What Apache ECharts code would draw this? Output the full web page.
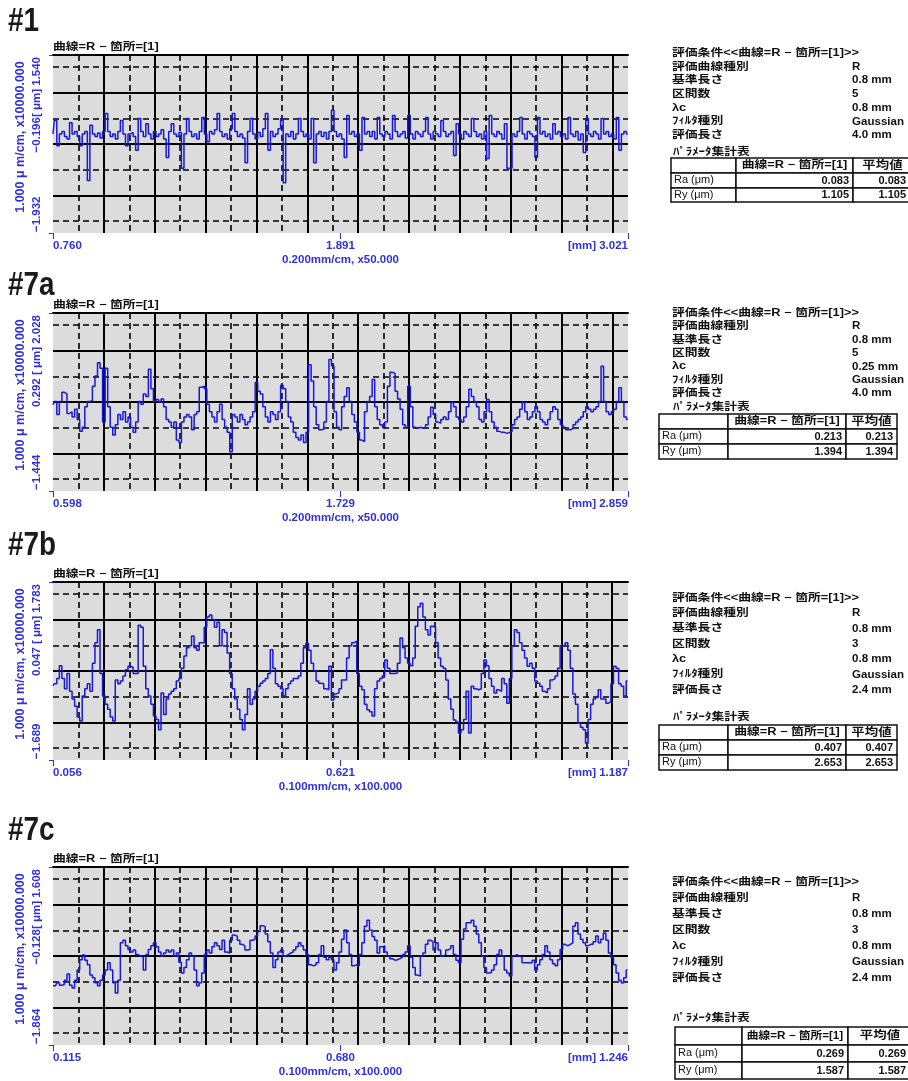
<!DOCTYPE html>
<html>
<head>
<meta charset="utf-8">
<script src="https://cdn.jsdelivr.net/npm/echarts@6/dist/echarts.min.js"></script>
<style>
  html, body { margin: 0; padding: 0; background: #fff; }
  #chart { width: 908px; height: 1081px; }
</style>
</head>
<body>
<div id="chart"></div>
<script>
// ---- data ----
const panelTags = ['#1', '#7a', '#7b', '#7c'];
const xRanges = [[0.760, 3.021], [0.598, 2.859], [0.056, 1.187], [0.115, 1.246]]; // mm
const xMidLabels = ['1.891', '1.729', '0.621', '0.680'];
const xScaleTexts = ['0.200mm/cm, x50.000', '0.200mm/cm, x50.000', '0.100mm/cm, x100.000', '0.100mm/cm, x100.000'];
const xPitch = [0.01, 0.01, 0.005, 0.005];     // sampling pitch of the profile arrays (mm)
const xGridSteps = [0.1, 0.1, 0.05, 0.05];     // dashed grid step, solid = 2x
const yRanges = [[-1.932, 1.540], [-1.444, 2.028], [-1.689, 1.783], [-1.864, 1.608]]; // um
const yMidLabels = ['\u22120.196', '0.292 ', '0.047 ', '\u22120.128'];
const yGridStep = 0.5;
const yScaleText = '1.000 \u03bc m/cm, x10000.000';

// roughness profiles (um)
const profile1 = [
  0.0, 0.26, -0.23, 0.0, 0.05, -0.05, -0.1, 0.22, 0.0, 0.05,
  -0.05, -0.23, 0.0, 0.05, -0.91, 0.17, 0.0, -0.05, 0.02, -0.08,
  0.05, 0.40, 0.05, -0.05, 0.0, -0.1, 0.05, 0.26, 0.0, -0.23,
  0.0, 0.03, -0.05, -0.32, 0.30, 0.05, -0.05, 0.2, 0.0, -0.1,
  0.05, -0.05, 0.0, 0.08, -0.1, -0.46, 0.05, 0.2, 0.0, -0.05,
  0.03, -0.67, 0.0, 0.30, 0.05, -0.05, 0.0, -0.1, 0.05, 0.32,
  0.0, -0.15, 0.05, 0.0, 0.08, 0.40, 0.05, -0.05, 0.0, -0.1,
  0.1, 0.40, 0.05, -0.05, 0.0, -0.08, -0.56, 0.05, 0.30, 0.0,
  -0.1, 0.03, -0.05, 0.1, 0.40, -0.32, 0.05, -0.05, 0.0, 0.1,
  0.30, -0.95, 0.0, -0.05, 0.05, -0.1, 0.0, 0.30, 0.05, -0.05,
  0.0, -0.1, 0.30, -0.56, 0.0, 0.05, -0.05, 0.03, -0.1, 0.05,
  0.46, 0.05, -0.05, 0.0, -0.1, -0.46, 0.36, 0.0, 0.05, -0.05,
  0.0, -0.32, 0.32, 0.0, 0.05, -0.05, 0.05, -0.1, 0.32, 0.0,
  -0.05, 0.05, 0.0, -0.1, 0.36, 0.05, -0.05, 0.0, 0.05, -0.08,
  0.36, 0.0, -0.1, 0.05, 0.0, -0.05, 0.05, 0.32, 0.0, -0.1,
  0.05, 0.0, -0.05, 0.26, 0.05, -0.05, 0.0, 0.05, -0.42, 0.2,
  0.0, -0.1, 0.05, 0.0, -0.05, 0.30, 0.05, -0.05, 0.0, -0.1,
  0.05, -0.48, 0.36, 0.0, -0.05, 0.05, 0.0, -0.1, 0.2, -0.67,
  -0.67, 0.0, -0.05, 0.05, 0.32, 0.0, -0.1, 0.05, 0.0, -0.05,
  -0.46, 0.32, 0.0, 0.05, -0.05, 0.0, -0.1, 0.2, 0.0, 0.05,
  -0.05, 0.0, -0.1, 0.32, 0.0, -0.05, 0.05, -0.12, 0.0, -0.36,
  0.30, 0.0, -0.05, 0.05, 0.0, -0.1, 0.30, 0.0, 0.05, -0.05,
  0.0, -0.1, 0.32, -0.32, 0.0, 0.05, 0.0
];
const profile7a = [
  0.24, 0.3, 0.05, 0.3, 0.48, 0.45, 0.07, 0.1, 0.0, 0.15,
  -0.05, -0.28, -0.2, 0.2, 0.3, 0.32, 0.6, 0.8, 1.06, 0.95,
  -0.1, 0.95, 0.2, -0.2, -0.35, -0.15, 0.05, -0.05, 0.1, -0.1,
  0.0, -0.2, -0.3, -0.1, 0.3, 0.25, 0.45, 0.4, 0.93, 0.55,
  0.3, 0.34, 0.3, 0.35, 0.2, -0.05, -0.1, -0.2, -0.1, -0.45,
  -0.5, -0.1, 0.0, 0.05, 0.0, -0.25, 0.05, 0.1, 0.58, 0.6,
  0.55, 0.25, 0.1, 0.0, -0.1, 0.1, 0.25, -0.05, -0.2, -0.3,
  -0.68, 0.05, 0.0, -0.1, 0.05, -0.05, -0.15, -0.1, 0.0, 0.1,
  0.67, 0.5, 0.45, 0.2, 0.0, -0.1, 0.1, 0.05, -0.05, 0.1,
  0.62, 0.55, 0.3, 0.0, -0.1, -0.3, -0.4, -0.45, -0.35, -0.5,
  -0.3, 1.02, 0.7, 0.2, -0.15, -0.25, -0.24, -0.1, 0.3, 1.12,
  1.0, 0.1, -0.2, -0.25, 0.2, 0.4, 0.57, 0.3, 0.05, -0.1,
  -0.3, -0.45, -0.48, 0.1, 0.3, 0.4, 0.73, 0.2, -0.05, -0.15,
  -0.2, -0.1, 0.6, 0.87, 0.85, 0.5, 0.35, 0.15, -0.15, -0.2,
  0.6, 0.2, -0.2, -0.22, -0.2, -0.22, -0.2, -0.15, 0.0, 0.19,
  0.05, -0.1, -0.12, -0.05, 0.0, -0.05, 0.1, 0.28, 0.2, 0.0,
  -0.05, -0.1, 0.0, 0.2, 0.54, 0.4, 0.3, 0.2, -0.05, -0.1,
  0.1, 0.34, 0.1, -0.1, -0.2, -0.28, -0.3, -0.3, -0.32, -0.3,
  -0.28, -0.15, -0.05, 0.0, 0.15, 0.28, 0.1, -0.05, 0.0, 0.1,
  0.2, 0.1, -0.05, -0.1, -0.15, -0.05, 0.1, 0.2, 0.15, -0.05,
  -0.15, -0.2, -0.25, -0.25, -0.22, -0.15, -0.1, -0.05, 0.0, 0.1,
  0.2, 0.15, 0.1, 0.15, 0.2, 0.3, 0.99, 0.3, 0.1, 0.05,
  0.1, 0.15, 0.3, 0.57, 0.3, 0.0, -0.05
];
const profile7b = [
  -0.24, -0.2, -0.1, 0.15, -0.1, -0.3, 0.0, -0.35, -0.5, -0.64,
  -0.85, -0.93, -0.44, -0.3, -0.2, -0.35, 0.2, 0.6, 0.85, 0.0,
  -0.44, -0.6, -0.7, -0.85, -0.93, -0.13, -0.2, -0.15, -0.05, 0.07,
  0.14, 0.12, 0.0, 0.0, 0.94, 0.9, 0.14, -0.3, -0.44, -0.6,
  -0.83, -0.9, -1.1, -0.38, -0.8, -0.5, -0.4, -0.35, -0.3, -0.15,
  -0.1, 0.1, 0.34, 0.5, 0.54, 0.73, 0.5, 0.45, 0.6, 0.6,
  0.9, 1.1, 1.14, 1.05, 0.9, 1.0, 0.54, 0.85, 0.8, 0.4,
  0.0, -0.3, -0.5, -0.7, -0.9, -1.1, -0.8, -0.3, -0.6, -0.5,
  -0.35, -0.25, -0.19, -0.15, -0.1, 0.0, 0.46, 0.1, -0.2, -0.25,
  -0.3, -0.44, -0.3, -0.2, -0.15, -0.1, -0.1, -0.05, 0.2, 0.5,
  0.59, 0.45, 0.2, 0.05, -0.15, -0.19, -0.2, -0.3, -0.32, 0.14,
  -0.52, -0.4, -0.38, -0.3, -0.13, -0.13, 0.3, 0.54, 0.6, 0.63,
  0.0, -0.25, -0.32, -0.6, -0.71, -0.75, -0.83, -0.3, -0.15, -0.1,
  -0.05, 0.26, 0.1, 0.0, 0.0, 0.01, 0.2, 0.69, 0.5, 0.3,
  0.2, 0.15, 0.3, 0.92, 1.3, 1.37, 1.1, 0.85, 0.75, 0.92,
  0.9, 0.6, 0.3, 0.14, 0.1, -0.13, -0.5, -0.7, -0.91, -0.95,
  -1.16, -1.1, -0.9, -0.35, -1.16, -0.25, -0.3, -0.32, -0.3, 0.0,
  0.26, 0.15, -0.1, -0.25, -0.38, -0.32, -0.35, -0.1, -0.2, -0.58,
  -0.1, 0.54, 0.85, 0.8, 0.6, 0.45, 0.3, 0.14, 0.2, 0.1,
  -0.15, -0.19, -0.25, -0.35, -0.38, -0.3, -0.13, -0.1, -0.05, 0.1,
  0.54, 0.55, 0.6, 0.45, 0.1, -0.4, -0.6, -0.97, -1.05, -1.1,
  -1.36, -0.9, -0.6, -0.5, -0.45, -0.32, -0.5, -0.5, -0.58, -0.55,
  -0.2, 0.14, 0.1, -0.2, -0.25, -0.44, -0.15
];
const profile7c = [
  -0.71, -0.71, -0.65, -0.7, -0.68, -0.6, -0.48, -0.7, -0.75, -0.6,
  -0.4, -0.2, -0.11, -0.21, -0.3, -0.5, -0.55, -0.65, -0.71, -0.6,
  -0.5, -0.4, -0.26, -0.4, -0.65, -0.85, -0.6, 0.13, 0.18, 0.07,
  0.0, -0.05, -0.01, -0.1, -0.13, -0.15, -0.4, -0.1, 0.0, 0.07,
  0.13, 0.05, -0.05, -0.13, -0.07, -0.01, -0.05, -0.01, -0.13, -0.07,
  -0.25, -0.46, -0.35, -0.2, -0.07, -0.13, -0.4, -0.71, -0.65, -0.46,
  -0.1, -0.01, -0.07, 0.05, 0.13, 0.07, 0.0, 0.18, -0.05, -0.07,
  0.18, 0.28, 0.26, 0.18, 0.1, 0.07, -0.01, 0.0, 0.18, 0.2,
  0.26, 0.35, 0.46, 0.45, 0.3, 0.15, -0.07, -0.35, -0.2, -0.05,
  -0.01, -0.13, -0.1, -0.07, -0.05, -0.01, 0.05, 0.13, 0.07, -0.01,
  -0.1, -0.3, -0.32, -0.3, -0.26, -0.1, 0.07, -0.15, -0.2, -0.15,
  -0.2, -0.4, -0.26, -0.05, 0.2, 0.38, 0.13, -0.1, -0.32, -0.3,
  -0.32, -0.1, 0.13, 0.45, 0.57, 0.38, 0.25, 0.18, -0.07, 0.05,
  0.07, -0.05, -0.13, -0.18, -0.21, -0.2, -0.18, -0.15, -0.1, -0.05,
  0.07, -0.15, -0.35, -0.5, -0.52, -0.13, -0.07, 0.1, 0.18, 0.15,
  -0.01, 0.13, -0.01, -0.13, -0.1, -0.01, 0.02, 0.07, -0.1, -0.21,
  -0.26, 0.2, 0.4, 0.52, 0.52, 0.57, 0.45, 0.3, 0.13, -0.13,
  -0.35, -0.46, -0.45, -0.4, -0.3, -0.1, -0.01, -0.13, -0.4, -0.46,
  -0.52, -0.13, -0.1, -0.13, -0.15, -0.26, -0.26, -0.26, -0.26, -0.21,
  -0.4, -0.3, -0.2, -0.1, 0.07, -0.05, -0.2, -0.28, -0.32, -0.2,
  0.0, 0.1, 0.07, 0.1, 0.13, 0.45, 0.52, 0.3, 0.2, 0.13,
  0.07, 0.1, 0.1, 0.15, 0.26, 0.13, 0.2, 0.32, 0.18, -0.07,
  -0.15, -0.3, -0.46, -0.6, -0.65, -0.55, -0.4
];
const profiles = [profile1, profile7a, profile7b, profile7c];

// evaluation conditions / parameter table
const condTitle = '評価条件<<曲線=R \u2212 箇所=[1]>>';
const condLabels = ['評価曲線種別', '基準長さ', '区間数', '\u03bbc', 'ﾌｨﾙﾀ種別', '評価長さ'];
const condValues = [
  ['R', '0.8 mm', '5', '0.8 mm', 'Gaussian', '4.0 mm'],
  ['R', '0.8 mm', '5', '0.25 mm', 'Gaussian', '4.0 mm'],
  ['R', '0.8 mm', '3', '0.8 mm', 'Gaussian', '2.4 mm'],
  ['R', '0.8 mm', '3', '0.8 mm', 'Gaussian', '2.4 mm']
];
const curveName = '曲線=R \u2212 箇所=[1]';
const raValues = ['0.083', '0.213', '0.407', '0.269'];
const ryValues = ['1.105', '1.394', '2.653', '1.587'];

// ---- layout ----
const PLOT_LEFT = 53, PLOT_W = 575, PLOT_H = 178;
const plotTops = [55, 313, 582, 867];
const tagTops = [11, 275, 535, 820];
const infoLayout = [
  {x: 672, vx: 852, y: 53, dy: 13.7, py: 152, cols: [671, 736, 853, 912], rows: [158, 173, 188, 202]},
  {x: 672, vx: 852, y: 313, dy: 13.4, py: 407, cols: [659, 728, 846, 897], rows: [414, 429, 444, 459]},
  {x: 672, vx: 852, y: 598, dy: 15.3, py: 717, cols: [659, 728, 846, 897], rows: [725, 740, 755, 770]},
  {x: 672, vx: 852, y: 882, dy: 16, py: 1018, cols: [675, 742, 848, 912], rows: [1027, 1045, 1062, 1079]}
];

const BLUE = '#3030e0';
const TRACE = '#1818d8';
const LATIN = "'Liberation Sans', Arial, sans-serif";
const MIXED = "'Liberation Sans', 'Noto Sans CJK JP', sans-serif";
const WIDE = 1.22;        // the printed Japanese text is stretched sideways
const CURVE_TEXT_W = 88;  // unscaled width of curveName at 10.5px

const grid = [], xAxis = [], yAxis = [], series = [], graphic = [];

function text(x, y, str, style, rotation, scaleX) {
  return {
    type: 'text', x: x, y: y, rotation: rotation || 0, scaleX: scaleX || 1, silent: true,
    style: Object.assign({
      text: str, fill: '#111', fontSize: 11, fontWeight: 'bold', fontFamily: MIXED,
      align: 'left', verticalAlign: 'middle'
    }, style || {})
  };
}

profiles.forEach((prof, p) => {
  const x0 = xRanges[p][0], x1 = xRanges[p][1];
  const y0 = yRanges[p][0], y1 = yRanges[p][1];
  const xc = (x0 + x1) / 2, yc = (y0 + y1) / 2;
  const top = plotTops[p];

  grid.push({
    left: PLOT_LEFT, top: top, width: PLOT_W, height: PLOT_H,
    show: true, backgroundColor: '#dcdcdc', borderWidth: 0,
    containLabel: false, outerBoundsMode: 'none'
  });

  // data x axis (labels, ticks, scale text)
  xAxis.push({
    gridIndex: p, type: 'value', min: x0, max: x1, position: 'bottom', z: 3,
    name: xScaleTexts[p], nameLocation: 'middle', nameGap: 21,
    nameTextStyle: {color: BLUE, fontSize: 11.5, fontWeight: 'bold', fontFamily: LATIN},
    axisLine: {show: false, onZero: false},
    axisTick: {show: true, customValues: [x0, xc, x1], length: 6, lineStyle: {color: BLUE, width: 1}},
    axisLabel: {
      show: true, customValues: [x0, xc, x1], margin: 7,
      color: BLUE, fontSize: 11.5, fontWeight: 'bold', fontFamily: LATIN,
      alignMinLabel: 'left', alignMaxLabel: 'right',
      formatter: v => Math.abs(v - x0) < 1e-9 ? x0.toFixed(3)
        : Math.abs(v - x1) < 1e-9 ? '[mm] ' + x1.toFixed(3) : xMidLabels[p]
    },
    splitLine: {show: false}
  });
  // dashed vertical grid
  xAxis.push({
    gridIndex: p, type: 'value', min: x0, max: x1, interval: xGridSteps[p], z: 1,
    axisLine: {show: false, onZero: false}, axisTick: {show: false}, axisLabel: {show: false},
    splitLine: {show: true, showMinLine: false, showMaxLine: false,
      lineStyle: {color: '#000', width: 1.6, type: [6, 4]}}
  });
  // solid vertical grid + top frame line
  xAxis.push({
    gridIndex: p, type: 'value', min: x0, max: x1, interval: xGridSteps[p] * 2, position: 'top', z: 2,
    axisLine: {show: true, onZero: false, lineStyle: {color: '#000', width: 2}},
    axisTick: {show: false}, axisLabel: {show: false},
    splitLine: {show: true, showMinLine: false, showMaxLine: false,
      lineStyle: {color: '#000', width: 2}}
  });

  // data y axis
  yAxis.push({
    gridIndex: p, type: 'value', min: y0, max: y1, z: 3,
    axisLine: {show: false, onZero: false},
    axisTick: {show: true, customValues: [y0, y1], length: 4, lineStyle: {color: BLUE}},
    axisLabel: {show: false}, splitLine: {show: false}
  });
  const dashedY = [], solidY = [];
  for (let k = -3; k <= 3; k++) {
    const v = +(yc + k * yGridStep).toFixed(4);
    (k % 2 === 0 ? solidY : dashedY).push(v);
  }
  yAxis.push({
    gridIndex: p, type: 'value', min: y0, max: y1, z: 1,
    axisLine: {show: false, onZero: false}, axisTick: {show: false, customValues: dashedY},
    axisLabel: {show: false},
    splitLine: {show: true, lineStyle: {color: '#000', width: 1.6, type: [6, 4]}}
  });
  yAxis.push({
    gridIndex: p, type: 'value', min: y0, max: y1, z: 2,
    axisLine: {show: false, onZero: false}, axisTick: {show: false, customValues: solidY},
    axisLabel: {show: false},
    splitLine: {show: true, lineStyle: {color: '#000', width: 2}}
  });

  series.push({
    type: 'line', xAxisIndex: p * 3, yAxisIndex: p * 3,
    data: prof.map((v, i) => [x0 + i * xPitch[p], v]),
    symbol: 'none', step: 'middle', silent: true, z: 5,
    lineStyle: {color: TRACE, width: 1.5}
  });

  // panel tag and curve header
  graphic.push(text(8, tagTops[p] - 6, panelTags[p], {
    fontSize: 34, fontWeight: 'bold', verticalAlign: 'top', fill: '#1a1a1a', fontFamily: LATIN
  }, 0, 0.82));
  graphic.push(text(PLOT_LEFT, top - 8, curveName, {fontSize: 10.5}, 0, WIDE));

  // vertical y annotations
  graphic.push(text(21, top + 82, yScaleText,
    {fill: BLUE, fontSize: 12.5, fontFamily: LATIN, align: 'center'}, Math.PI / 2));
  graphic.push(text(37, top + PLOT_H - 1, y0 < 0 ? '\u2212' + Math.abs(y0).toFixed(3) : y0.toFixed(3),
    {fill: BLUE, fontSize: 11.5, fontFamily: LATIN, align: 'left'}, Math.PI / 2));
  graphic.push(text(37, top + 2, yMidLabels[p] + '[ \u03bcm] ' + y1.toFixed(3),
    {fill: BLUE, fontSize: 11.5, fontFamily: LATIN, align: 'right'}, Math.PI / 2));

  // evaluation conditions block
  const L = infoLayout[p];
  graphic.push(text(L.x, L.y, condTitle, {fontSize: 10.5}, 0, WIDE));
  condLabels.forEach((lab, r) => {
    graphic.push(text(L.x, L.y + (r + 1) * L.dy, lab, {fontSize: 10.5}, 0, WIDE));
    graphic.push(text(L.vx, L.y + (r + 1) * L.dy, condValues[p][r], {fontSize: 11, fontFamily: LATIN}, 0, 1.05));
  });
  graphic.push(text(L.x + 1, L.py, 'ﾊﾟﾗﾒｰﾀ集計表', {fontSize: 10.5}, 0, WIDE));

  // parameter table
  const c = L.cols, rw = L.rows;
  for (let r = 0; r < 3; r++) {
    for (let k = 0; k < 3; k++) {
      graphic.push({
        type: 'rect', silent: true,
        shape: {x: c[k], y: rw[r], width: c[k + 1] - c[k], height: rw[r + 1] - rw[r]},
        style: {fill: '#fff', stroke: '#111', lineWidth: 1.5}
      });
    }
  }
  const mid = r => (rw[r] + rw[r + 1]) / 2;
  const right = Math.min(c[3], 910) - 4;
  const fit = Math.min(WIDE, (c[2] - c[1] - 8) / CURVE_TEXT_W);
  graphic.push(text((c[1] + c[2]) / 2, mid(0), curveName, {fontSize: 10.5, align: 'center'}, 0, fit));
  graphic.push(text((c[2] + c[3]) / 2, mid(0), '平均値', {fontSize: 11, align: 'center'}, 0, WIDE));
  graphic.push(text(c[0] + 3, mid(1), 'Ra (\u03bcm)', {fontSize: 10, fontWeight: 'normal'}, 0, 1.1));
  graphic.push(text(c[0] + 3, mid(2), 'Ry (\u03bcm)', {fontSize: 10, fontWeight: 'normal'}, 0, 1.1));
  graphic.push(text(c[2] - 4, mid(1), raValues[p], {fontSize: 11, fontFamily: LATIN, align: 'right'}));
  graphic.push(text(c[2] - 4, mid(2), ryValues[p], {fontSize: 11, fontFamily: LATIN, align: 'right'}));
  graphic.push(text(right, mid(1), raValues[p], {fontSize: 11, fontFamily: LATIN, align: 'right'}));
  graphic.push(text(right, mid(2), ryValues[p], {fontSize: 11, fontFamily: LATIN, align: 'right'}));
});

const chart = echarts.init(document.getElementById('chart'), null, {renderer: 'canvas'});
chart.setOption({
  animation: false,
  backgroundColor: '#fff',
  grid: grid,
  xAxis: xAxis,
  yAxis: yAxis,
  series: series,
  graphic: graphic
});
</script>
</body>
</html>
